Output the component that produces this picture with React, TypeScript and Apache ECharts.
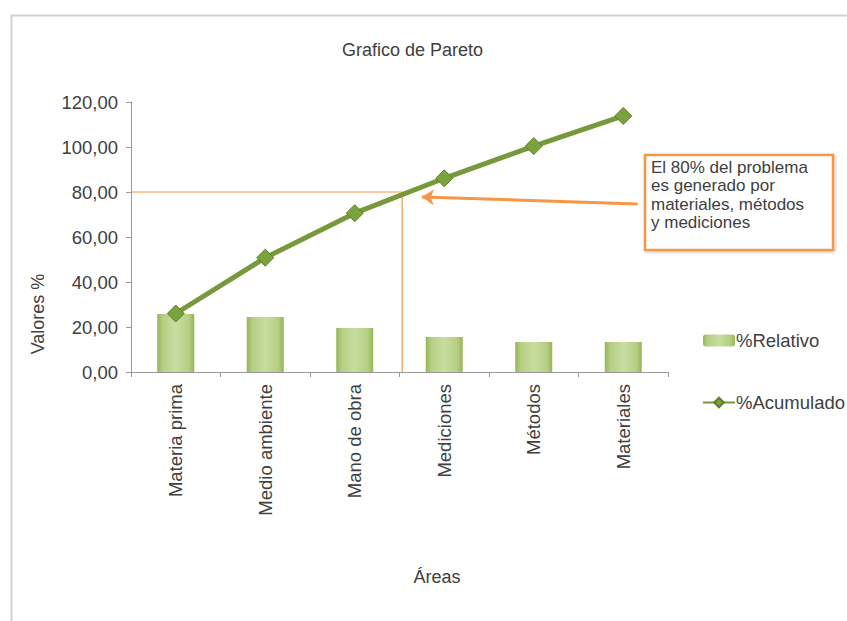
import React, { useEffect, useRef } from "react";
import * as echarts from "echarts";

const categories = ["Materia prima", "Medio ambiente", "Mano de obra", "Mediciones", "Métodos", "Materiales"];
const relativo = [25.8, 24.4, 19.6, 15.6, 13.3, 13.3];
const acumulado = [26.0, 50.8, 70.6, 86.1, 100.4, 113.8];
const yTicks = { min: 0, max: 120, interval: 20 };
// 80% reference line (x in category units on hidden value axis)
const refLine = [[0, 80], [3.03, 80], [3.03, 0]];
const arrowFrom = [5.66, 74.7];
const arrowTo = [3.25, 77.8];
const noteLines = ["El 80% del problema", "es generado por", "materiales, métodos", "y mediciones"];

const FONT = "Liberation Sans, Arial, sans-serif";
const TXT = "#404040";
const ORANGE = "#f79646";

export default function App() {
  const ref = useRef<HTMLDivElement>(null);
  useEffect(() => {
    if (!ref.current) return;
    const chart = echarts.init(ref.current, null, { renderer: "svg" });
    chart.setOption({
      animation: false,
      backgroundColor: "#fff",
      textStyle: { fontFamily: FONT },
      title: {
        text: "Grafico de Pareto",
        left: 337,
        top: 36,
        textStyle: { fontSize: 18, fontWeight: "normal", color: TXT, fontFamily: FONT },
      },
      legend: {
        orient: "vertical",
        left: 697,
        top: 326,
        itemGap: 43,
        itemWidth: 32,
        itemHeight: 12,
        data: ["%Relativo", "%Acumulado"],
        textStyle: { fontSize: 18.5, color: TXT, fontFamily: FONT, padding: [0, 0, 0, -4] },
      },
      grid: { left: 131, right: 179, top: 102, bottom: 249, containLabel: false },
      xAxis: [
        {
          type: "category",
          data: categories,
          axisLine: { lineStyle: { color: "#9a9a9a", width: 1 } },
          axisTick: { show: true, length: 5, lineStyle: { color: "#9a9a9a" } },
          axisLabel: { rotate: 90, margin: 12, fontSize: 18.5, color: TXT, fontFamily: FONT },
        },
        { type: "value", min: 0, max: 6, show: false },
      ],
      yAxis: {
        type: "value",
        min: yTicks.min,
        max: yTicks.max,
        interval: yTicks.interval,
        splitLine: { show: false },
        axisLine: { show: true, lineStyle: { color: "#9a9a9a" } },
        axisTick: { show: true, length: 5, lineStyle: { color: "#9a9a9a" } },
        axisLabel: {
          fontSize: 18.5,
          color: TXT,
          margin: 13,
          fontFamily: FONT,
          formatter: (v: number) => v.toFixed(2).replace(".", ","),
        },
      },
      series: [
        {
          name: "80%",
          type: "line",
          xAxisIndex: 1,
          data: refLine,
          symbol: "none",
          z: 1,
          lineStyle: { color: ORANGE, width: 1.2 },
          markLine: {
            silent: true,
            symbol: ["none", "arrow"],
            symbolSize: [12, 12],
            label: { show: false },
            lineStyle: { color: ORANGE, width: 3, type: "solid" },
            data: [[{ coord: arrowFrom }, { coord: arrowTo }]],
          },
        },
        {
          name: "%Relativo",
          type: "bar",
          data: relativo,
          barWidth: 37,
          z: 2,
          itemStyle: {
            color: new echarts.graphic.LinearGradient(0, 0, 1, 0, [
              { offset: 0, color: "#95b556" },
              { offset: 0.15, color: "#b5cf83" },
              { offset: 0.5, color: "#c8dda0" },
              { offset: 0.85, color: "#b5cf83" },
              { offset: 1, color: "#95b556" },
            ]),
          },
        },
        {
          name: "%Acumulado",
          type: "line",
          data: acumulado,
          z: 3,
          symbol: "diamond",
          symbolSize: 17,
          lineStyle: { color: "#77983b", width: 5 },
          itemStyle: { color: "#7aa33c", borderColor: "#5f7f2c", borderWidth: 1 },
        },
      ],
      graphic: [
        {
          type: "rect",
          left: 9,
          top: 13,
          shape: { width: 845, height: 615 },
          style: { fill: "none", stroke: "#d2d2d2", lineWidth: 2 },
          z: -1,
        },
        {
          type: "rect",
          shape: { x: 645, y: 155, width: 188, height: 95 },
          style: { fill: "#fff", stroke: ORANGE, lineWidth: 2.5, shadowBlur: 3, shadowColor: "rgba(0,0,0,0.25)", shadowOffsetX: 1, shadowOffsetY: 1 },
          z: 10,
        },
        {
          type: "text",
          x: 651,
          y: 158,
          z: 11,
          style: {
            text: noteLines.join("\n"),
            fontSize: 17,
            lineHeight: 18.5,
            fill: TXT,
            fontFamily: FONT,
            verticalAlign: "top",
          },
        },
        {
          type: "text",
          x: 38,
          y: 314,
          rotation: Math.PI / 2,
          style: { text: "Valores %", fontSize: 18, fill: TXT, fontFamily: FONT, align: "center", verticalAlign: "middle" },
        },
        {
          type: "text",
          x: 437,
          y: 577,
          style: { text: "Áreas", fontSize: 18, fill: TXT, fontFamily: FONT, align: "center", verticalAlign: "middle" },
        },
      ],
    });
    return () => chart.dispose();
  }, []);
  return <div ref={ref} style={{ position: "fixed", left: 0, top: 0, width: 847, height: 621 }} />;
}
